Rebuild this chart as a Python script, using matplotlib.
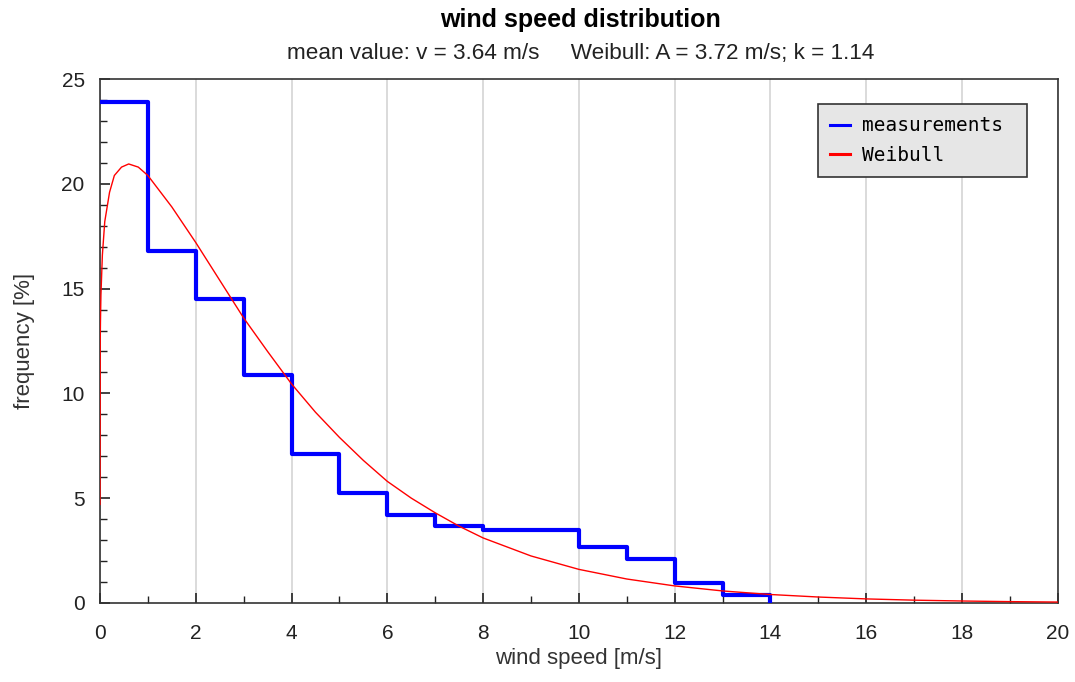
import numpy as np
import matplotlib
matplotlib.use("Agg")
import matplotlib.pyplot as plt
from matplotlib.ticker import MultipleLocator

plt.rcParams['font.family'] = ['Liberation Sans', 'DejaVu Sans']

# measured histogram (1 m/s bins, frequency in %)
bin_edges = [0, 1, 2, 3, 4, 5, 6, 7, 8, 9, 10, 11, 12, 13, 14]
measured = [23.9, 16.8, 14.5, 10.9, 7.1, 5.25, 4.2, 3.65, 3.5, 3.5, 2.65, 2.1, 0.97, 0.4]

# Weibull curve
weibull_x = [0, 0.005, 0.01, 0.02, 0.05, 0.1, 0.2, 0.3, 0.45, 0.6, 0.8, 1.0, 1.5, 2.0, 2.5,
             3.0, 3.5, 4.0, 4.5, 5.0, 5.5, 6.0, 6.5, 7.0, 7.5, 8.0, 9.0, 10, 11, 12, 13,
             14, 15, 16, 17, 18, 19, 20]
weibull_y = [4.7, 12.4, 13.4, 14.7, 16.6, 18.2, 19.6, 20.4, 20.8, 20.95, 20.8, 20.4, 18.9, 17.2, 15.4,
             13.6, 12.0, 10.45, 9.1, 7.9, 6.8, 5.8, 5.0, 4.3, 3.66, 3.1, 2.24, 1.6, 1.14, 0.81, 0.57,
             0.4, 0.28, 0.19, 0.13, 0.09, 0.06, 0.04]

fig = plt.figure(figsize=(10.75, 6.82), dpi=100)
ax = fig.add_axes([0.093, 0.116, 0.891, 0.768])

ax.step(bin_edges, measured + [0], where='post', color='#0000ff', lw=3.0,
        label='measurements ', zorder=3)
ax.plot(weibull_x, weibull_y, color='#ff0000', lw=1.0, label='Weibull', zorder=4)

ax.set_xlim(0, 20)
ax.set_ylim(0, 25)
ax.xaxis.set_major_locator(MultipleLocator(2))
ax.xaxis.set_minor_locator(MultipleLocator(1))
ax.yaxis.set_major_locator(MultipleLocator(5))
ax.yaxis.set_minor_locator(MultipleLocator(1))
ax.tick_params(which='both', direction='in', labelsize=15, colors='#222222')
ax.tick_params(which='major', length=7, width=1.2)
ax.tick_params(which='minor', length=5, width=1.0)
ax.tick_params(axis='x', pad=15)
ax.tick_params(axis='y', pad=11)
ax.grid(axis='x', which='major', color='#d4d4d4', lw=1.2)
for s in ax.spines.values():
    s.set_color('#333333')
    s.set_linewidth(1.2)

ax.set_xlabel('wind speed [m/s]', fontsize=16, color='#333333', labelpad=4)
ax.set_ylabel('frequency [%]', fontsize=16, color='#333333', labelpad=19)

fig.text(0.54, 0.970, 'wind speed distribution', ha='center', va='center',
         fontsize=18, fontweight='bold')
fig.text(0.54, 0.922, 'mean value: v = 3.64 m/s     Weibull: A = 3.72 m/s; k = 1.14',
         ha='center', va='center', fontsize=16.2, color='#222222')

leg = ax.legend(loc='upper right', bbox_to_anchor=(0.968, 0.952), fancybox=False,
                prop={'family': 'DejaVu Sans Mono', 'size': 14}, handlelength=1.0,
                borderpad=0.62, labelspacing=0.55, handletextpad=0.65, borderaxespad=0)
leg.get_frame().set_facecolor('#e6e6e6')
leg.get_frame().set_edgecolor('#333333')
leg.get_frame().set_linewidth(1.2)
leg.get_frame().set_alpha(1)
for line in leg.get_lines():
    line.set_linewidth(2.2)

fig.savefig('out.png', dpi=100)
